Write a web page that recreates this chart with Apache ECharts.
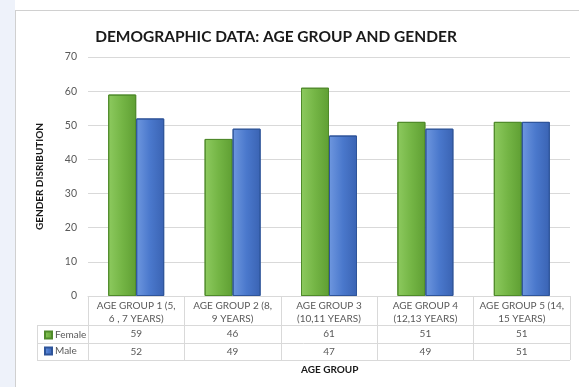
<!DOCTYPE html>
<html>
<head>
<meta charset="utf-8">
<script src="https://cdn.jsdelivr.net/npm/echarts@6/dist/echarts.min.js"></script>
<style>
  html, body { margin: 0; padding: 0; background: #fff; }
  #main { width: 579px; height: 387px; }
</style>
</head>
<body>
<div id="main"></div>
<script>
var categories = ['AGE GROUP 1 (5,\n6 , 7 YEARS)', 'AGE GROUP 2 (8,\n9 YEARS)', 'AGE GROUP 3\n(10,11 YEARS)', 'AGE GROUP 4\n(12,13 YEARS)', 'AGE GROUP 5 (14,\n15 YEARS)'];
var female = [59, 46, 61, 51, 51];
var male = [52, 49, 47, 49, 51];
var yTicks = [0, 70, 10]; // min, max, interval

var chart = echarts.init(document.getElementById('main'));

var font = 'Lato, "Open Sans", sans-serif';
var grey = '#595959';
var lineCol = '#d9d9d9';

// 表格用的轴（数值行）
function rowAxis(vals, offset) {
  return {
    type: 'category', data: categories, position: 'bottom', offset: offset,
    axisLine: {show: false}, axisTick: {show: false}, splitLine: {show: false},
    axisLabel: {
      margin: 4, color: grey, fontFamily: font, fontSize: 10,
      formatter: function (v, i) { return vals[i]; }
    }
  };
}

var option = {
  backgroundColor: '#fff',
  title: {
    text: 'DEMOGRAPHIC DATA: AGE GROUP AND GENDER',
    left: 271, top: 24, textAlign: 'center',
    textStyle: {fontFamily: font, fontSize: 15.5, fontWeight: 'bold', color: '#1a1a1a'}
  },
  legend: {
    orient: 'vertical', left: 39, top: 325, itemGap: 6,
    itemWidth: 7, itemHeight: 7, icon: 'rect',
    textStyle: {fontFamily: font, fontSize: 10, color: grey, padding: [0, 0, 0, -2]},
    data: ['Female', 'Male']
  },
  grid: {left: 88, right: 9, top: 57, bottom: 91},
  xAxis: [
    {
      type: 'category', data: categories,
      axisLine: {lineStyle: {color: lineCol}},
      axisTick: {show: true, length: 64, interval: 0, lineStyle: {color: lineCol}},
      axisLabel: {interval: 0, margin: 3, color: grey, fontFamily: font, fontSize: 10, lineHeight: 13}
    },
    rowAxis(female, 29),
    rowAxis(male, 47)
  ],
  yAxis: {
    type: 'value', min: yTicks[0], max: yTicks[1], interval: yTicks[2],
    name: 'GENDER DISRIBUTION', nameLocation: 'middle', nameGap: 43, nameRotate: 90,
    nameTextStyle: {fontFamily: font, fontSize: 10, fontWeight: 'bold', color: '#1a1a1a'},
    axisLine: {show: false}, axisTick: {show: false},
    axisLabel: {color: grey, fontFamily: font, fontSize: 10.5, margin: 11},
    splitLine: {lineStyle: {color: lineCol}}
  },
  series: [
    {
      name: 'Female', type: 'bar', data: female, barWidth: 28, barGap: '0%',
      itemStyle: {
        color: new echarts.graphic.LinearGradient(0, 0, 1, 0, [
          {offset: 0, color: '#8dca5f'}, {offset: 0.5, color: '#74b545'}, {offset: 1, color: '#5f9f33'}
        ]),
        borderColor: '#4f8a2a', borderWidth: 1
      }
    },
    {
      name: 'Male', type: 'bar', data: male, barWidth: 28,
      itemStyle: {
        color: new echarts.graphic.LinearGradient(0, 0, 1, 0, [
          {offset: 0, color: '#6e97df'}, {offset: 0.5, color: '#4a78cc'}, {offset: 1, color: '#3a63b3'}
        ]),
        borderColor: '#2e5499', borderWidth: 1
      }
    }
  ],
  graphic: [
    {type: 'rect', shape: {x: 0, y: 0, width: 15, height: 387}, style: {fill: '#eef2fa'}, silent: true, z: -1},
    {type: 'line', shape: {x1: 15.5, y1: 10, x2: 15.5, y2: 387}, style: {stroke: '#d0d0d0', lineWidth: 1}},
    {type: 'line', shape: {x1: 15, y1: 10.5, x2: 579, y2: 10.5}, style: {stroke: '#d0d0d0', lineWidth: 1}},
    {type: 'line', shape: {x1: 37, y1: 325.5, x2: 570, y2: 325.5}, style: {stroke: lineCol, lineWidth: 1}},
    {type: 'line', shape: {x1: 37, y1: 343.5, x2: 570, y2: 343.5}, style: {stroke: lineCol, lineWidth: 1}},
    {type: 'line', shape: {x1: 37, y1: 360.5, x2: 570, y2: 360.5}, style: {stroke: lineCol, lineWidth: 1}},
    {type: 'line', shape: {x1: 37.5, y1: 325, x2: 37.5, y2: 361}, style: {stroke: lineCol, lineWidth: 1}},
    {
      type: 'text', left: 301, top: 365,
      style: {text: 'AGE GROUP', font: 'bold 10px ' + font, fill: '#1a1a1a'}
    }
  ]
};

chart.setOption(option);
</script>
</body>
</html>
